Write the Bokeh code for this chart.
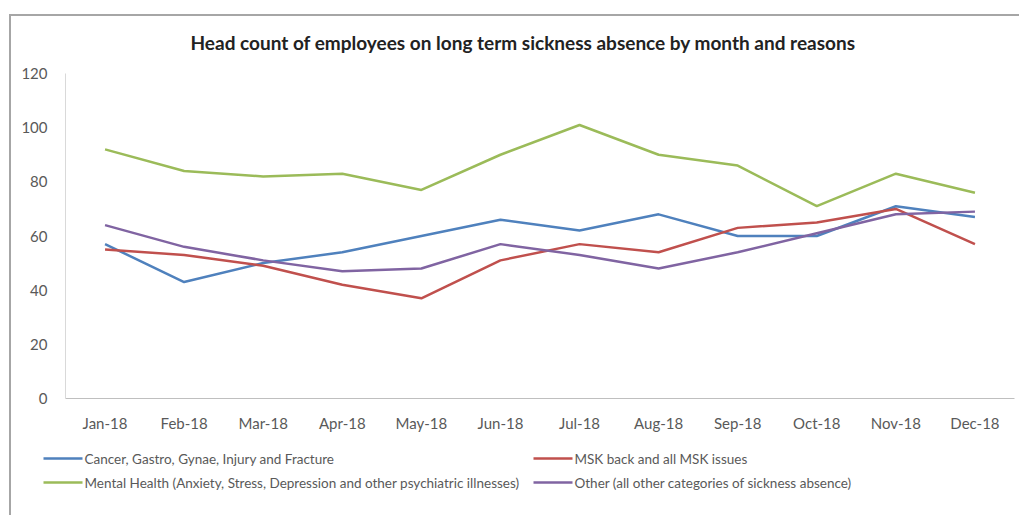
from bokeh.plotting import figure
from bokeh.layouts import column
from bokeh.models import FactorRange, Range1d, FixedTicker
from bokeh.core.properties import value
from bokeh.embed import file_html
from bokeh.resources import INLINE

months = ["Jan-18", "Feb-18", "Mar-18", "Apr-18", "May-18", "Jun-18",
          "Jul-18", "Aug-18", "Sep-18", "Oct-18", "Nov-18", "Dec-18"]
cancer = [57, 43, 50, 54, 60, 66, 62, 68, 60, 60, 71, 67]
msk = [55, 53, 49, 42, 37, 51, 57, 54, 63, 65, 70, 57]
mental = [92, 84, 82, 83, 77, 90, 101, 90, 86, 71, 83, 76]
other = [64, 56, 51, 47, 48, 57, 53, 48, 54, 61, 68, 69]
y_ticks = [0, 20, 40, 60, 80, 100, 120]

title_text = "Head count of employees on long term sickness absence by  month and reasons"
names = ["Cancer, Gastro, Gynae, Injury and Fracture",
         "MSK back and all MSK issues",
         "Mental Health (Anxiety, Stress, Depression and other psychiatric illnesses)",
         "Other (all other categories of sickness absence)"]
colors = ["#4F81BD", "#C0504D", "#9BBB59", "#8064A2"]
series = [cancer, msk, mental, other]

FONT = "Lato"
W = 1008


def blank(h):
    f = figure(width=W, height=h, output_backend="svg", toolbar_location=None,
               x_range=Range1d(0, W), y_range=Range1d(h, 0),
               x_axis_location=None, y_axis_location=None,
               min_border=0, min_border_left=0, min_border_right=0,
               min_border_top=0, min_border_bottom=0)
    f.frame_align = False
    f.grid.visible = False
    f.outline_line_color = None
    return f


# title strip
tf = blank(45)
tf.text(x=[514], y=[26], text=[title_text], text_font=value(FONT),
        text_font_size="19px", text_font_style="bold", text_color="#222222",
        text_align="center", text_baseline="middle")

# main chart
p = figure(x_range=FactorRange(factors=months, range_padding=0),
           y_range=Range1d(0, 120),
           width=W, height=379, output_backend="svg", toolbar_location=None,
           min_border_left=54, min_border_right=5, min_border_top=12, min_border_bottom=42)
p.frame_align = False
p.outline_line_color = None
p.xgrid.grid_line_color = None
p.ygrid.grid_line_color = None

p.yaxis.ticker = FixedTicker(ticks=y_ticks)
p.yaxis.axis_line_color = "#D9D9D9"
p.yaxis.major_tick_line_color = None
p.yaxis.minor_tick_line_color = None
p.yaxis.major_label_text_font = FONT
p.yaxis.major_label_text_font_size = "15px"
p.yaxis.major_label_text_color = "#595959"
p.yaxis.major_label_standoff = 12

p.xaxis.axis_line_color = "#BFBFBF"
p.xaxis.major_tick_line_color = None
p.xaxis.minor_tick_line_color = None
p.xaxis.major_label_text_font = FONT
p.xaxis.major_label_text_font_size = "15px"
p.xaxis.major_label_text_color = "#595959"
p.xaxis.major_label_standoff = 9

for name, col, vals in zip(names, colors, series):
    p.line(months, vals, line_color=col, line_width=2.5)

# legend strip
lg = blank(75)
col_x = [32, 522]
row_y = [18, 42]
glyph_w = 39
for i, (name, col) in enumerate(zip(names, colors)):
    cx = col_x[i % 2]
    ry = row_y[i // 2]
    lg.segment(x0=[cx], y0=[ry], x1=[cx + glyph_w], y1=[ry], line_color=col, line_width=2.5)
    lg.text(x=[cx + glyph_w + 2], y=[ry], text=[name], text_font=value(FONT),
            text_font_size="13.5px", text_color="#595959", text_baseline="middle",
            text_align="left")

layout = column(tf, p, lg, spacing=0, margin=(14, 0, 0, 9),
                styles={"border-left": "2px solid #A6A6A6", "border-top": "2px solid #A6A6A6"})

open("out.html", "w").write(file_html(layout, INLINE))
